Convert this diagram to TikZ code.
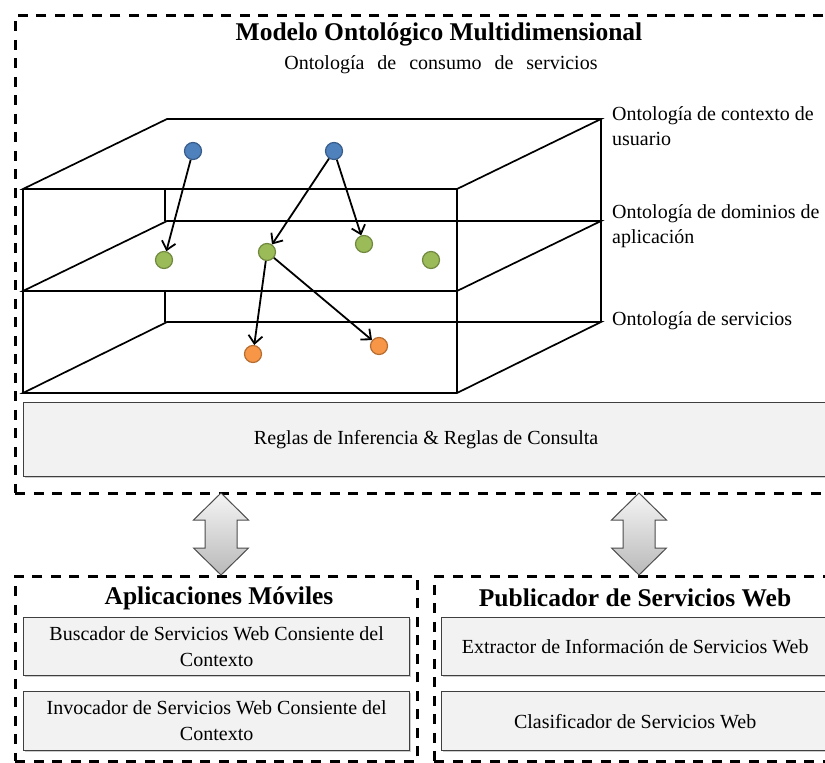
\documentclass[tikz,border=0pt]{standalone}
\usepackage{fontspec}
\setmainfont{Liberation Serif}
\usetikzlibrary{arrows.meta,shadows}

\definecolor{dotblue}{HTML}{4F81BD}
\definecolor{dotblueline}{HTML}{385D8A}
\definecolor{dotgreen}{HTML}{9BBB59}
\definecolor{dotgreenline}{HTML}{71893F}
\definecolor{dotorange}{HTML}{F79646}
\definecolor{dotorangeline}{HTML}{B66D31}
\definecolor{boxfill}{HTML}{F2F2F2}
\definecolor{boxline}{HTML}{3F3F3F}

\tikzset{
  dashframe/.style={draw=black, line width=2.6bp, dash pattern=on 10bp off 8.5bp,
    inner sep=0, anchor=north west},
  edge/.style={draw=black, line width=1.7bp, line join=miter},
  backedge/.style={draw=black, line width=1.1bp},
  dot/.style={circle, minimum size=17bp, inner sep=0, line width=1.2bp},
  bluedot/.style={dot, fill=dotblue, draw=dotblueline},
  greendot/.style={dot, fill=dotgreen, draw=dotgreenline},
  orangedot/.style={dot, fill=dotorange, draw=dotorangeline},
  link/.style={draw=black, line width=1.8bp,
    -{Straight Barb[length=8bp,width=14bp,line width=1.8bp]}},
  panel/.style={draw=boxline, fill=boxfill, line width=1.3bp, inner sep=0,
    align=center, font=\fontsize{20bp}{26bp}\selectfont,
    drop shadow={shadow xshift=1.5bp, shadow yshift=-1.5bp, opacity=0.4}},
  txt/.style={font=\fontsize{20bp}{25bp}\selectfont, inner sep=0},
  head/.style={font=\fontsize{25.5bp}{30bp}\selectfont\bfseries, inner sep=0},
  twoway/.style={draw=gray!60!black, line width=1bp, top color=gray!8, bottom color=gray!55}
}

\begin{document}
\begin{tikzpicture}[x=1bp, y=-1bp]
\clip (0,0) rectangle (825,763);
\fill[white] (0,0) rectangle (825,763);

% dashed frames
\node[dashframe, minimum width=831bp, minimum height=478bp] (mainframe) at (14,14) {};
\node[dashframe, minimum width=402bp, minimum height=185bp] (mobileframe) at (14,575) {};
\node[dashframe, minimum width=412bp, minimum height=185bp] (pubframe) at (433,575) {};

% headings
\node[head] (title) at (439,34) {Modelo Ontológico Multidimensional};
\node[txt] (subtitle) at (441,65)
  {\spaceskip=13bp plus 0bp Ontología de consumo de servicios};

% layered block: three horizontal planes seen in perspective
\foreach \yf/\yb in {189/119, 291/221, 393/322}{
  \draw[edge] (23,\yf) -- (167,\yb) -- (601,\yb) -- (457,\yf) -- cycle;
}
\draw[edge] (23,189) -- (23,393);
\draw[edge] (457,189) -- (457,393);
\draw[backedge] (601,119) -- (601,322);
\draw[backedge] (165,189) -- (165,221);
\draw[backedge] (165,291) -- (165,322);

% layer labels
\node[txt, align=left, anchor=west] (lbluser) at (612,126) {Ontología de contexto de\\usuario};
\node[txt, align=left, anchor=west] (lbldomain) at (612,226) {Ontología de dominios de\\aplicación};
\node[txt, align=left, anchor=west] (lblservice) at (612,321) {Ontología de servicios};

% concepts in each layer
\node[bluedot] (b1) at (193,151) {};
\node[bluedot] (b2) at (334,151) {};
\node[greendot] (g1) at (164,260) {};
\node[greendot] (g2) at (267,252) {};
\node[greendot] (g3) at (364,244) {};
\node[greendot] (g4) at (431,260) {};
\node[orangedot] (o1) at (253,354) {};
\node[orangedot] (o2) at (379,346) {};

\draw[link] (b1) -- (g1);
\draw[link] (b2) -- (g2);
\draw[link] (b2) -- (g3);
\draw[link] (g2) -- (o1);
\draw[link] (g2) -- (o2);

% rules bar
\node[panel, anchor=north west, minimum width=805bp, minimum height=74bp] (rules) at (23,402)
  {Reglas de Inferencia \& Reglas de Consulta};

% two-way links between the model and the client blocks
\coordinate (linkL) at (221,493);
\coordinate (linkR) at (639,493);
\foreach \c in {linkL, linkR}{
  \path[twoway, shift={(\c)}] (0,0) -- (27.5,27) -- (16,27) -- (16,55) -- (27.5,55)
    -- (0,82) -- (-27.5,55) -- (-16,55) -- (-16,27) -- (-27.5,27) -- cycle;
}

% mobile applications block
\node[head] (mobiletitle) at (219,598) {Aplicaciones Móviles};
\node[panel, anchor=north west, minimum width=386bp, minimum height=58bp] (finder) at (23,617)
  {Buscador de Servicios Web Consiente del\\Contexto};
\node[panel, anchor=north west, minimum width=386bp, minimum height=59bp] (invoker) at (23,691)
  {Invocador de Servicios Web Consiente del\\Contexto};

% web service publisher block
\node[head] (pubtitle) at (635,598) {Publicador de Servicios Web};
\node[panel, anchor=north west, minimum width=387bp, minimum height=58bp] (extractor) at (441,617)
  {Extractor de Información de Servicios Web};
\node[panel, anchor=north west, minimum width=387bp, minimum height=59bp] (classifier) at (441,691)
  {Clasificador de Servicios Web};
\end{tikzpicture}
\end{document}
